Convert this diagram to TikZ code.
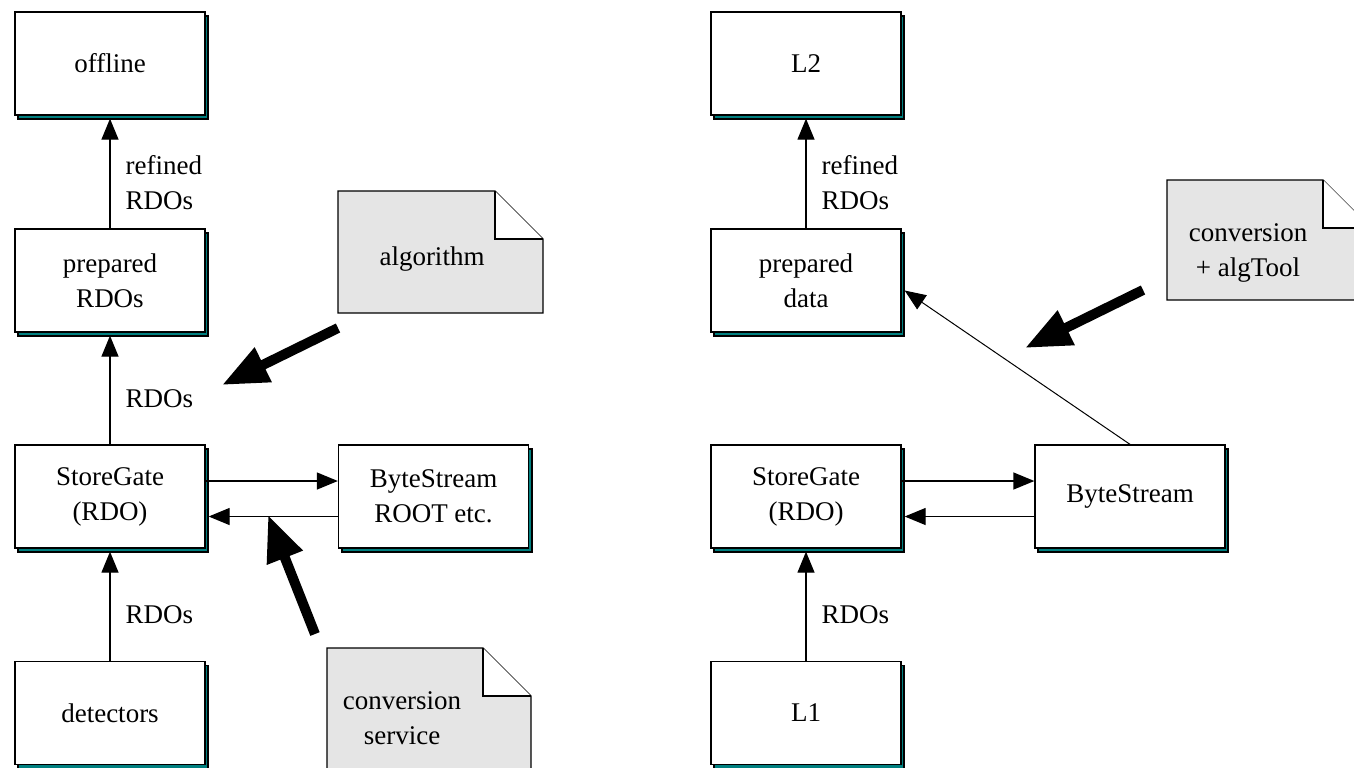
\documentclass[tikz,border=0pt]{standalone}
\usepackage{fontspec}
\setmainfont{Liberation Serif}
\usepackage{xcolor}
\usepackage{tikz}
\usetikzlibrary{arrows.meta, shadows, positioning}

\definecolor{shadowteal}{RGB}{0,128,128}
\definecolor{notegray}{RGB}{229,229,229}

\tikzset{
	block/.style = {draw, fill=white, line width=0.65pt, minimum width=95pt, minimum height=51.5pt, inner sep=0pt, align=center, font=\fontsize{13.5}{17.5}\selectfont, drop shadow={shadow xshift=1.6pt, shadow yshift=-2pt, fill=shadowteal, draw=black, line width=0.8pt, opacity=1}},
	flow/.style = {line width=0.65pt, -{Triangle[length=10.5pt, width=8.5pt]}},
	bigarrow/.style = {line width=5pt, -{Triangle[length=23pt, width=18pt]}},
	flowlabel/.style = {right, align=left, inner sep=0pt, xshift=7.5pt, pos=0.42, font=\fontsize{13.5}{17.5}\selectfont},
	notetext/.style = {align=center, inner sep=0pt, font=\fontsize{13.5}{17.5}\selectfont},
	note/.style = {fill=notegray, draw=black, line width=0.65pt}
}

\begin{document}
\begin{tikzpicture}[x=0.5pt, y=-0.5pt]
					\useasboundingbox (0,0) rectangle (1354,767);

					\begin{scope}
						\node[block] (off) at (110,63.5) {offline};
						\node[block] (prep) at (110,280.5) {prepared\\RDOs};
						\node[block] (sg) at (110,496.5) {StoreGate\\(RDO)};
						\node[block] (det) at (110,713) {detectors};
						\node[block] (bs) at (433.5,496.5) {ByteStream\\ROOT etc.};

						\draw[flow] (prep.north) -- ([yshift=-1.5pt]off.south) node[flowlabel] {refined\\RDOs};
						\draw[flow] (sg.north) -- ([yshift=-1.5pt]prep.south) node[flowlabel] {RDOs};
						\draw[flow] (det.north) -- ([yshift=-1.5pt]sg.south) node[flowlabel] {RDOs};
						\draw[flow] ([yshift=7.75pt]sg.east) -- ([yshift=7.75pt]bs.west);
						\draw[flow] ([yshift=-10pt]bs.west) -- ([yshift=-10pt,xshift=1.5pt]sg.east);
					\end{scope}

					\begin{scope}
						\node[block] (l2) at (806,63.5) {L2};
						\node[block] (prepd) at (806,280.5) {prepared\\data};
						\node[block] (sgr) at (806,496.5) {StoreGate\\(RDO)};
						\node[block] (l1) at (806,713) {L1};
						\node[block] (bsr) at (1130,496.5) {ByteStream};

						\draw[flow] (prepd.north) -- ([yshift=-1.5pt]l2.south) node[flowlabel] {refined\\RDOs};
						\draw[flow] (l1.north) -- ([yshift=-1.5pt]sgr.south) node[flowlabel] {RDOs};
						\draw[flow] ([yshift=7.75pt]sgr.east) -- ([yshift=7.75pt]bsr.west);
						\draw[flow] ([yshift=-10pt]bsr.west) -- ([yshift=-10pt,xshift=1.5pt]sgr.east);
						\draw[flow, line width=0.5pt] (bsr.north) -- ([yshift=-5pt,xshift=1.5pt]prepd.east);
					\end{scope}

					\begin{scope}
						\draw[note] (338,191) -- (495,191) -- (543,239) -- (543,313) -- (338,313) -- cycle;
						\draw[fill=white, line width=0.65pt] (495,191) -- (495,239) -- (543,239);
						\node[notetext] (algo) at (432,259) {algorithm};

						\draw[note] (327,648) -- (483,648) -- (531,696) -- (531,790) -- (327,790) -- cycle;
						\draw[fill=white, line width=0.65pt] (483,648) -- (483,696) -- (531,696);
						\node[notetext] (convsvc) at (402,718) {conversion\\service};

						\draw[note] (1167,180) -- (1323,180) -- (1371,228) -- (1371,300) -- (1167,300) -- cycle;
						\draw[fill=white, line width=0.65pt] (1323,180) -- (1323,228) -- (1371,228);
						\node[notetext] (convtool) at (1248,253) {conversion\\+ algTool};
					\end{scope}

					\begin{scope}
						\coordinate (algofrom) at (338,328);
						\coordinate (algoto) at (222,385);
						\coordinate (svcfrom) at (315,634);
						\coordinate (svcto) at (268,515);
						\coordinate (toolfrom) at (1143,290);
						\coordinate (toolto) at (1025,348);

						\draw[bigarrow] (algofrom) -- (algoto);
						\draw[bigarrow] (svcfrom) -- (svcto);
						\draw[bigarrow] (toolfrom) -- (toolto);
					\end{scope}
				\end{tikzpicture}
\end{document}
